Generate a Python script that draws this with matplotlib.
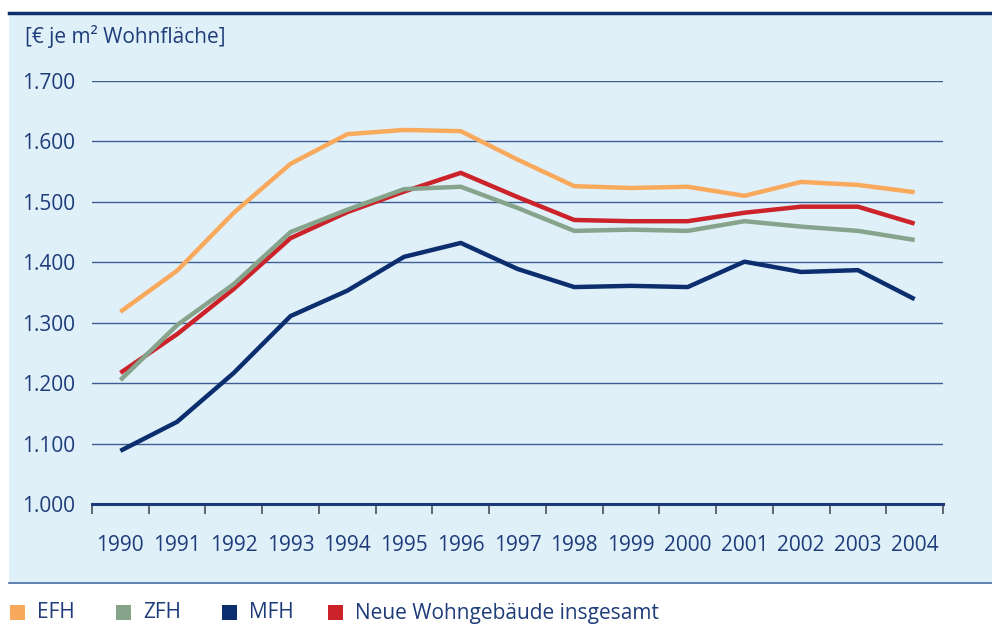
import matplotlib
matplotlib.use("Agg")
import matplotlib.pyplot as plt
from matplotlib.patches import Rectangle
from matplotlib.lines import Line2D
import numpy as np

years = ["1990", "1991", "1992", "1993", "1994", "1995", "1996", "1997",
         "1998", "1999", "2000", "2001", "2002", "2003", "2004"]
efh = [1318, 1386, 1482, 1563, 1612, 1619, 1617, 1570, 1526, 1523, 1525, 1510, 1533, 1528, 1516]
zfh = [1205, 1296, 1364, 1450, 1487, 1521, 1525, 1490, 1452, 1454, 1452, 1468, 1459, 1452, 1437]
mfh = [1088, 1136, 1217, 1311, 1353, 1409, 1432, 1389, 1359, 1361, 1359, 1401, 1384, 1387, 1339]
neu = [1217, 1281, 1356, 1440, 1483, 1517, 1548, 1508, 1470, 1468, 1468, 1482, 1492, 1492, 1464]
yticks = [1000, 1100, 1200, 1300, 1400, 1500, 1600, 1700]
ytick_labels = ["1.000", "1.100", "1.200", "1.300", "1.400", "1.500", "1.600", "1.700"]
series_names = ["EFH", "ZFH", "MFH", "Neue Wohngebäude insgesamt"]

colors = ["#F9A95C", "#86A38B", "#0C2D6E", "#CC2229"]
txt = "#1E3C7A"
bg = "#E0F0F9"

plt.rcParams['font.family'] = ['Open Sans', 'DejaVu Sans']

W, H = 992, 626
fig = plt.figure(figsize=(W / 100, H / 100), dpi=100)
fig.patch.set_facecolor("white")

# background panel
fig.add_artist(Rectangle((9 / W, 1 - 583 / H), (W - 9) / W, (583 - 13) / H,
                         transform=fig.transFigure, facecolor=bg, edgecolor="none", zorder=-5))
fig.add_artist(Line2D([9 / W, 1], [1 - 13 / H, 1 - 13 / H], color="#0E2F6B", lw=2.5,
                      transform=fig.transFigure, zorder=-4))
fig.add_artist(Line2D([9 / W, 1], [1 - 583 / H, 1 - 583 / H], color="#5577AA", lw=1.3,
                      transform=fig.transFigure, zorder=-4))

ax = fig.add_axes([92 / W, 1 - 504 / H, (943 - 92) / W, (504 - 81) / H])
ax.set_zorder(2)
ax.set_facecolor("none")
x = np.arange(len(years))
ax.plot(x, efh, color=colors[0], lw=3.2, solid_capstyle="butt", zorder=3)
ax.plot(x, neu, color=colors[3], lw=3.2, solid_capstyle="butt", zorder=3)
ax.plot(x, zfh, color=colors[1], lw=3.2, solid_capstyle="butt", zorder=4)
ax.plot(x, mfh, color=colors[2], lw=3.2, solid_capstyle="butt", zorder=3)

ax.set_xlim(-0.5, len(years) - 0.5)
ax.set_ylim(1000, 1700)
ax.set_yticks(yticks)
ax.set_yticklabels(ytick_labels)
for yv in yticks[1:]:
    ax.axhline(yv, color="#3C5E94", lw=1.0, zorder=1)

ax.set_xticks(x)
ax.set_xticklabels(years)
ax.set_xticks(np.arange(-0.5, len(years), 1.0), minor=True)
ax.tick_params(axis="x", which="major", length=0, pad=22, labelsize=15, labelcolor=txt)
ax.tick_params(axis="x", which="minor", length=7, width=1.2, color="#4A4F5A", direction="out")
ax.tick_params(axis="y", length=0, pad=12, labelsize=15, labelcolor=txt)

for s in ["top", "right", "left"]:
    ax.spines[s].set_visible(False)
ax.spines["bottom"].set_color("#1B3A78")
ax.spines["bottom"].set_linewidth(2.2)
ax.spines["bottom"].set_zorder(5)

fig.text(25 / W, 1 - 37 / H, "[€ je m² Wohnfläche]", fontsize=15, color=txt,
         va="center", ha="left")

# legend
lx = [10, 116, 222, 328]
for px, name, c in zip(lx, series_names, colors):
    fig.add_artist(Rectangle((px / W, 1 - 620 / H), 15 / W, 15 / H,
                             transform=fig.transFigure, facecolor=c, edgecolor="none"))
    fig.text((px + 27) / W, 1 - 613 / H, name, fontsize=15, color=txt, va="center", ha="left")

fig.savefig("out.png", dpi=100, facecolor="white")
